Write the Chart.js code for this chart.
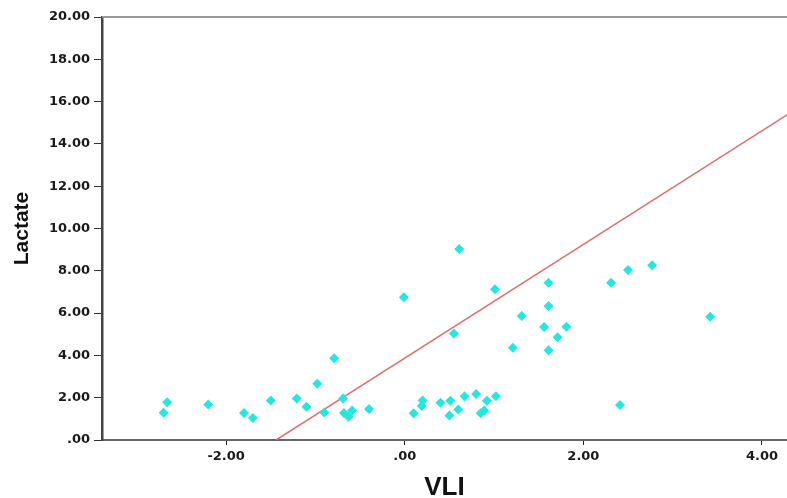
<!DOCTYPE html>
<html>
<head>
<meta charset="utf-8">
<script src="https://cdn.jsdelivr.net/npm/chart.js@4.4.1/dist/chart.umd.min.js"></script>
<style>
  html, body { margin: 0; padding: 0; background: #ffffff; overflow: hidden; }
  #box { width: 787px; height: 498px; }
</style>
</head>
<body>
<div id="box"><canvas id="grafico"></canvas></div>
<script>
"use strict";

// ---- dati ----
const vliValori = [
  -2.70, -2.66, -2.20, -1.80, -1.70, -1.50, -1.21, -1.10, -0.98, -0.79,
  -0.90, -0.69, -0.68, -0.63, -0.59, -0.40, -0.01, 0.10, 0.19, 0.20,
  0.40, 0.51, 0.50, 0.60, 0.67, 0.80, 0.85, 0.89, 0.92, 1.02,
  0.55, 0.61, 1.01, 1.21, 1.31, 1.56, 1.61, 1.61, 1.61, 1.71,
  1.81, 2.31, 2.50, 2.77, 2.41, 3.42
];
const lattatoValori = [
  1.29, 1.78, 1.68, 1.28, 1.04, 1.87, 1.96, 1.57, 2.66, 3.86,
  1.30, 1.96, 1.28, 1.10, 1.39, 1.47, 6.75, 1.26, 1.61, 1.87,
  1.76, 1.86, 1.16, 1.44, 2.07, 2.17, 1.26, 1.39, 1.86, 2.07,
  5.04, 9.03, 7.13, 4.36, 5.86, 5.34, 7.44, 6.34, 4.24, 4.86,
  5.36, 7.44, 8.04, 8.26, 1.65, 5.83
];

// retta di regressione (estremi)
const rettaX = [-1.44, 4.28];
const rettaY = [0, 15.37];

const xTickValori = [-2, 0, 2, 4];
const xTickEtichette = ["-2.00", ".00", "2.00", "4.00"];
const yTickValori = [0, 2, 4, 6, 8, 10, 12, 14, 16, 18, 20];
const yTickEtichette = [".00", "2.00", "4.00", "6.00", "8.00", "10.00",
                        "12.00", "14.00", "16.00", "18.00", "20.00"];

// ---- costruzione dataset ----
let punti = [];
for (let i = 0; i < vliValori.length; i++) {
    punti.push({ x: vliValori[i], y: lattatoValori[i] });
}
let puntiRetta = rettaX.map((x, i) => ({ x: x, y: rettaY[i] }));

// linea grigia in alto sull'area del grafico
const bordoSopra = {
    id: "bordoSopra",
    afterDraw(chart) {
        const a = chart.chartArea;
        const c = chart.ctx;
        c.save();
        c.strokeStyle = "#9a9a9a";
        c.lineWidth = 2;
        c.beginPath();
        c.moveTo(a.left, a.top);
        c.lineTo(a.right, a.top);
        c.stroke();
        c.restore();
    }
};

const fontTick = { family: "'DejaVu Sans', Verdana, sans-serif", size: 13, weight: "bold" };
const fontY = { family: "'Liberation Sans', Arial, sans-serif", size: 21, weight: "bold" };
const fontX = { family: "'Liberation Sans', Arial, sans-serif", size: 26, weight: "bold" };

new Chart(document.getElementById("grafico"), {
    type: "scatter",
    data: {
        datasets: [
            {
                type: "line",
                data: puntiRetta,
                borderColor: "#e07070",
                borderWidth: 1.5,
                pointRadius: 0,
                fill: false,
                order: 2
            },
            {
                data: punti,
                pointStyle: "rectRot",
                pointRadius: 5,
                pointHoverRadius: 5,
                backgroundColor: "#22e8e0",
                borderWidth: 0,
                order: 1
            }
        ]
    },
    options: {
        responsive: true,
        maintainAspectRatio: false,
        animation: false,
        layout: { autoPadding: false, padding: { top: 17, right: 0, left: 0, bottom: 0 } },
        plugins: {
            legend: { display: false },
            tooltip: { enabled: false }
        },
        scales: {
            x: {
                type: "linear",
                min: -3.39,
                max: 4.28,
                afterBuildTicks: (ax) => { ax.ticks = xTickValori.map(v => ({ value: v })); },
                afterFit: (ax) => { ax.height = 58; },
                ticks: {
                    color: "#1a1a1a",
                    font: fontTick,
                    padding: 4,
                    maxRotation: 0,
                    callback: (v) => xTickEtichette[xTickValori.indexOf(v)]
                },
                grid: { display: true, drawOnChartArea: false, tickLength: 5, tickColor: "#222", tickWidth: 1 },
                border: { display: true, color: "#666", width: 2 },
                title: { display: true, text: "VLI", color: "#111", font: fontX, padding: { top: 10, bottom: -5 } }
            },
            y: {
                type: "linear",
                min: 0,
                max: 20,
                afterBuildTicks: (ax) => { ax.ticks = yTickValori.map(v => ({ value: v })); },
                afterFit: (ax) => { ax.width = 102; },
                ticks: {
                    color: "#1a1a1a",
                    font: fontTick,
                    padding: 4,
                    callback: (v) => yTickEtichette[yTickValori.indexOf(v)]
                },
                grid: { display: true, drawOnChartArea: false, tickLength: 8, tickColor: "#333", tickWidth: 1 },
                border: { display: true, color: "#444", width: 2.5 },
                title: { display: true, text: "Lactate", color: "#111", font: fontY, padding: { top: 10, bottom: 0 } }
            }
        }
    },
    plugins: [bordoSopra]
});
</script>
</body>
</html>
